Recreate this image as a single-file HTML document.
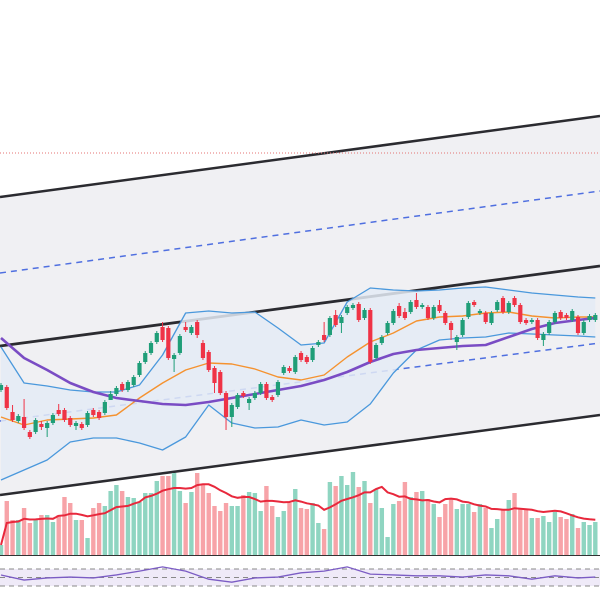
<!DOCTYPE html>
<html><head><meta charset="utf-8"><style>
html,body{margin:0;padding:0;background:#fff;}
svg{display:block;font-family:"Liberation Sans",sans-serif;}
</style></head><body>
<svg id="chart" width="600" height="600" viewBox="0 0 600 600" xmlns="http://www.w3.org/2000/svg">
<g id="layer-channel"></g>
<g id="layer-bb"></g>
<g id="layer-ma"></g>
<g id="layer-candles"></g>
<g id="layer-vol"></g>
<g id="layer-rsi"></g>
</svg>
<script>
// ---- data ----
const opens  = [210,213,188,179,183,168,168,176,172,177,190,190,182,174,176,175,190,188,187,200,206,216,210,215,225,238,247,258,273,272,241,247,273,267,278,257,248,232,228,207,183,193,207,197,202,207,216,203,205,227,232,228,247,243,240,255,265,265,285,277,287,292,296,282,290,242,257,267,277,294,288,288,300,293,293,282,295,287,277,258,265,283,298,287,287,277,290,302,288,302,295,280,278,280,260,267,278,288,285,280,283,267,280,280];
const closes = [215,192,180,184,172,163,180,173,177,185,186,180,175,177,172,187,185,182,198,206,212,210,218,223,237,247,257,267,260,242,245,264,270,273,265,242,230,217,207,183,195,205,204,201,207,216,202,200,218,233,229,243,240,238,252,258,260,282,275,283,293,295,280,290,238,255,263,277,289,284,282,298,293,295,282,293,289,277,270,263,280,297,295,289,278,287,298,288,297,295,278,277,280,262,266,278,287,282,282,289,267,278,284,285];
const highs  = [217,215,195,186,201,170,182,179,179,187,196,192,184,179,178,189,192,190,200,209,214,218,220,225,239,249,259,269,278,274,247,266,278,275,280,260,250,234,230,209,197,207,209,203,209,218,218,205,220,235,234,245,249,245,254,260,278,284,290,285,295,297,298,292,292,257,265,279,291,297,292,300,307,297,295,295,300,289,279,265,282,299,300,291,289,289,300,304,299,304,297,282,282,282,268,280,289,290,287,291,285,280,286,287];
const lows   = [208,190,178,177,170,161,166,170,163,175,184,178,173,170,170,173,183,180,185,200,204,208,208,213,223,236,245,256,258,240,228,245,268,265,262,240,228,207,205,170,173,191,202,190,200,205,200,198,203,225,227,226,238,236,238,253,258,263,273,267,285,290,278,280,236,240,255,265,275,282,280,286,291,291,280,280,287,275,260,250,263,281,293,285,276,275,288,286,286,293,276,275,276,260,254,265,276,280,280,278,265,265,278,278];
const volumes = [10,54,35,35,47,32,36,40,40,33,40,58,52,35,35,17,47,52,49,64,70,64,58,57,53,62,62,74,79,79,82,64,52,63,82,70,62,49,44,52,49,49,60,63,62,44,69,49,38,44,52,66,47,46,52,32,26,73,69,79,70,83,68,74,52,66,47,18,51,54,73,58,63,64,56,51,38,51,56,46,51,51,43,51,47,27,36,45,55,62,46,46,37,37,39,33,43,38,36,41,27,33,30,33];
// indicator samples at candle indices
const sampleIdx = [0,4,8,12,16,20,24,28,32,36,40,44,48,52,56,60,64,68,72,76,80,84,88,92,96,100,103];
const maSlow  = [262,242,230,217,208,202,199,196,195,198,202,206,210,214,220,228,238,246,250,252,254,255,263,271,277,280,282];
const maFast  = [183,175,180,181,182,185,202,217,230,237,236,231,223,220,225,243,258,267,279,283,284,287,288,284,282,283,283];
const bbUpper = [253,217,214,210,208,208,215,245,287,289,287,288,272,255,257,298,312,310,309,310,312,313,310,307,305,303,302];
const bbLower = [120,130,140,158,162,162,157,150,163,195,177,172,173,180,175,178,196,227,250,260,262,263,267,266,265,264,263];
const rsiVals = [56,44,49,51,49,56,65,75,65,46,39,49,51,61,65,75,58,56,54,54,51,56,54,46,54,49,51];
// channel lines: [price at left edge, price at right edge]
const chanUpper = [403,484];
const chanUpperMid = [327,409];
const chanMid = [254,334];
const chanLowerMid = [179,257];
const chanLower = [105,185];
const alertLevel = 447;
const rsiLevels = [70,50,30];
const volMAWindow = 10;

// ---- scales ----
const NS = "http://www.w3.org/2000/svg";
const N = closes.length;
const xStep = 5.77;
function xScale(i){ return 1 + i*xStep; }
function yScale(p){ return 600 - p; }
function vScale(v){ return 555 - v; }
function rScale(r){ return 586 - (r-30)*17/40; }
function mk(tag, attrs, parent){
  const el = document.createElementNS(NS, tag);
  for (const k in attrs) el.setAttribute(k, attrs[k]);
  parent.appendChild(el);
  return el;
}
const gCh = document.getElementById('layer-channel');
const gBB = document.getElementById('layer-bb');
const gMA = document.getElementById('layer-ma');
const gC = document.getElementById('layer-candles');
const gV = document.getElementById('layer-vol');
const gR = document.getElementById('layer-rsi');

// channel fill
const cf = mk('polygon', {points:`0,${yScale(chanUpper[0])} 600,${yScale(chanUpper[1])} 600,${yScale(chanLower[1])} 0,${yScale(chanLower[0])}`, fill:'#f0f0f3'}, gCh);



// BB fill
let bbPts = sampleIdx.map((d,k)=>`${xScale(d)},${yScale(bbUpper[k])}`);
for (let k=sampleIdx.length-1;k>=0;k--) bbPts.push(`${xScale(sampleIdx[k])},${yScale(bbLower[k])}`);
const bbf = mk('polygon', {points:bbPts.join(' '), fill:'#e4ebf5', opacity:'0.85'}, gBB);



function chanLine(arr, name, style){
  const l = mk('line', Object.assign({x1:0, y1:yScale(arr[0]), x2:600, y2:yScale(arr[1])}, style), gCh);
  
  
}
chanLine(chanUpperMid, 'channel-upper-dashed', {stroke:'#4f6fe0', 'stroke-width':1.5, 'stroke-dasharray':'6,5'});
chanLine(chanLowerMid, 'channel-lower-dashed', {stroke:'#4f6fe0', 'stroke-width':1.5, 'stroke-dasharray':'6,5'});
chanLine(chanUpper, 'channel-upper-line', {stroke:'#2b2b30', 'stroke-width':2.5});
chanLine(chanMid, 'channel-middle-line', {stroke:'#2b2b30', 'stroke-width':2.8});
chanLine(chanLower, 'channel-lower-line', {stroke:'#2b2b30', 'stroke-width':2.5});
const al = mk('line', {x1:0, y1:yScale(alertLevel), x2:600, y2:yScale(alertLevel), stroke:'#e57373', 'stroke-width':1, 'stroke-dasharray':'1,2'}, gCh);



function polyline(vals, name, style, parent){
  const pts = sampleIdx.map((d,k)=>`${xScale(d)},${yScale(vals[k])}`).join(' ');
  const p = mk('polyline', Object.assign({points:pts, fill:'none', 'stroke-linejoin':'round'}, style), parent);
  
  
}
polyline(bbUpper, 'bollinger-upper', {stroke:'#4a98dc', 'stroke-width':1.3}, gBB);
polyline(bbLower, 'bollinger-lower', {stroke:'#4a98dc', 'stroke-width':1.3}, gBB);
polyline(maFast, 'ma-fast-line', {stroke:'#f5922f', 'stroke-width':1.4}, gMA);
polyline(maSlow, 'ma-slow-line', {stroke:'#7a4cc4', 'stroke-width':2.6}, gMA);

// candles
for (let i=0;i<N;i++){
  const up = closes[i] >= opens[i];
  const col = up ? '#1f9e78' : '#ef3346';
  const x = xScale(i);
  const g = mk('g', {}, gC);
  
  
  mk('line', {x1:x, x2:x, y1:yScale(highs[i]), y2:yScale(lows[i]), stroke:col, 'stroke-width':1}, g);
  const top = yScale(Math.max(opens[i], closes[i]));
  const h = Math.max(1.5, Math.abs(opens[i]-closes[i]));
  mk('rect', {x:x-2.1, y:top, width:4.2, height:h, fill:col}, g);
}

// volume
for (let i=0;i<N;i++){
  const up = closes[i] >= opens[i];
  const r = mk('rect', {x:xScale(i)-2.2, y:vScale(volumes[i]), width:4.4, height:volumes[i], fill: up ? '#8fd5c1' : '#f7a3a8'}, gV);
  
  
}
const vb = mk('line', {x1:0, x2:600, y1:555.5, y2:555.5, stroke:'#333', 'stroke-width':1}, gV);


const vmaPts = [];
for (let i=0;i<N;i++){
  const s = Math.max(0, i-volMAWindow+1);
  let sum=0; for (let j=s;j<=i;j++) sum+=volumes[j];
  vmaPts.push(`${xScale(i)},${vScale(sum/(i-s+1))}`);
}
const vma = mk('polyline', {points:vmaPts.join(' '), fill:'none', stroke:'#e8283c', 'stroke-width':2}, gV);



// RSI
const rf = mk('rect', {x:0, y:rScale(rsiLevels[0]), width:600, height:rScale(rsiLevels[2])-rScale(rsiLevels[0]), fill:'#efeaf8'}, gR);


rsiLevels.forEach(lv=>{
  const l = mk('line', {x1:0, x2:600, y1:rScale(lv), y2:rScale(lv), stroke:'#888', 'stroke-width':1, 'stroke-dasharray':'5,4'}, gR);
  
  
});
const rp = mk('polyline', {points:sampleIdx.map((d,k)=>`${xScale(d)},${rScale(rsiVals[k])}`).join(' '), fill:'none', stroke:'#7b5cc4', 'stroke-width':1.3}, gR);


</script>
</body></html>
